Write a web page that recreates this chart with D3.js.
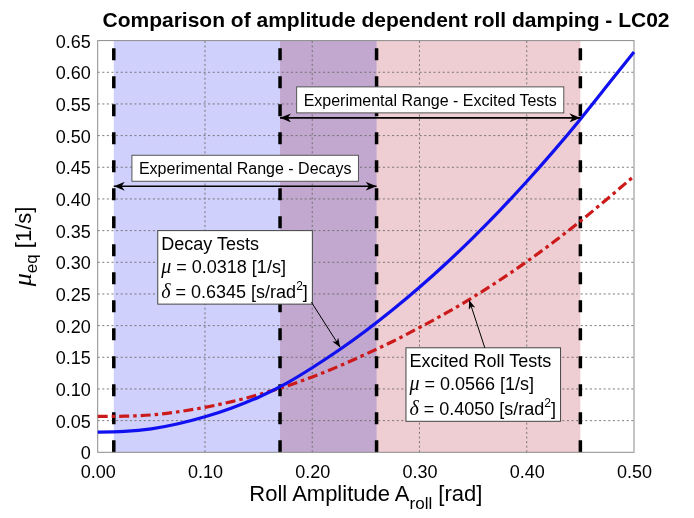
<!DOCTYPE html>
<html>
<head>
<meta charset="utf-8">
<script src="https://cdn.jsdelivr.net/npm/d3@7"></script>
<style>
  body { margin: 0; background: #fff; }
  text { font-family: "Liberation Sans", Arial, Helvetica, sans-serif; fill: #000; }
  .sym { font-family: "Liberation Serif", "Times New Roman", serif; font-style: italic; }
</style>
</head>
<body>
<svg id="chart" width="694" height="518"></svg>
<script>
// Roll amplitude samples [rad] and equivalent damping [1/s] for both fits
const amplitude = [0.000, 0.025, 0.050, 0.075, 0.100, 0.125, 0.150, 0.175, 0.200, 0.225,
                   0.250, 0.275, 0.300, 0.325, 0.350, 0.375, 0.400, 0.425, 0.450, 0.475, 0.500];
const decayMu   = [0.032, 0.033, 0.037, 0.045, 0.056, 0.070, 0.087, 0.108, 0.1335, 0.1615,
                   0.192, 0.225, 0.2605, 0.2985, 0.339, 0.382, 0.4275, 0.4755, 0.526, 0.579, 0.632];
const excitedMu = [0.0566, 0.057, 0.059, 0.064, 0.071, 0.080, 0.091, 0.104, 0.119, 0.136,
                   0.155, 0.175, 0.197, 0.220, 0.245, 0.272, 0.301, 0.332, 0.365, 0.400, 0.436];

// Fitted coefficients shown in the annotation boxes
const fitNames = ["Decay Tests", "Excited Roll Tests"];
const fitMu    = [0.0318, 0.0566];
const fitDelta = [0.6345, 0.4050];

// Experimental amplitude ranges
const decayRange   = [0.015, 0.26];
const excitedRange = [0.17, 0.45];
const rangeLabels  = ["Experimental Range - Decays", "Experimental Range - Excited Tests"];
const rangeArrowMu = [0.42, 0.528];

// Axis ticks
const xTicks = [0, 0.1, 0.2, 0.3, 0.4, 0.5];
const yTicks = [0, 0.05, 0.10, 0.15, 0.20, 0.25, 0.30, 0.35, 0.40, 0.45, 0.50, 0.55, 0.60, 0.65];

const svg = d3.select("#chart");
const plotL = 97.7, plotR = 634, plotT = 40.6, plotB = 452.3;

const x = d3.scaleLinear().domain([0, 0.5]).range([plotL, plotR]);
const y = d3.scaleLinear().domain([0, 0.65]).range([plotB, plotT]);

// Arrowhead markers
const defs = svg.append("defs");
function head(id, len, half) {
  defs.append("marker")
    .attr("id", id).attr("viewBox", `${-len} ${-half} ${len} ${2 * half}`)
    .attr("refX", 0).attr("refY", 0)
    .attr("markerWidth", len).attr("markerHeight", 2 * half)
    .attr("markerUnits", "userSpaceOnUse").attr("orient", "auto-start-reverse")
    .append("path")
    .attr("d", `M0,0 L${-len},${-half} L${-len * 0.7},0 L${-len},${half} Z`)
    .attr("fill", "#000");
}
head("rangeHead", 11, 4.5);
head("pointHead", 9, 3.5);

// Shaded experimental ranges
const shades = svg.append("g").style("isolation", "isolate");
shades.append("rect")
  .attr("x", x(decayRange[0])).attr("y", plotT)
  .attr("width", x(decayRange[1]) - x(decayRange[0])).attr("height", plotB - plotT)
  .attr("fill", "rgb(208,208,252)").style("mix-blend-mode", "multiply");
shades.append("rect")
  .attr("x", x(excitedRange[0])).attr("y", plotT)
  .attr("width", x(excitedRange[1]) - x(excitedRange[0])).attr("height", plotB - plotT)
  .attr("fill", "rgb(238,206,210)").style("mix-blend-mode", "multiply");

// Dotted grid
const grid = svg.append("g").attr("stroke", "#6a6a6a").attr("stroke-width", 0.9)
  .attr("stroke-dasharray", "2,2.6");
grid.selectAll(".gx").data(xTicks.slice(1, -1)).join("line")
  .attr("x1", d => x(d)).attr("x2", d => x(d)).attr("y1", plotB).attr("y2", plotT);
grid.selectAll(".gy").data(yTicks.slice(1, -1)).join("line")
  .attr("y1", d => y(d)).attr("y2", d => y(d)).attr("x1", plotL).attr("x2", plotR);

// Range boundaries (dashed verticals, drawn from the bottom up)
const bounds = [decayRange[0], excitedRange[0], decayRange[1], excitedRange[1]];
svg.append("g").selectAll("line").data(bounds).join("line")
  .attr("x1", d => x(d)).attr("x2", d => x(d))
  .attr("y1", plotB).attr("y2", plotT)
  .attr("stroke", "#000").attr("stroke-width", 3.5)
  .attr("stroke-dasharray", "12,16");

// Axes (labels only; frame drawn separately)
const xAxis = d3.axisBottom(x).tickValues(xTicks).tickFormat(d3.format(".2f")).tickSize(0).tickPadding(0);
const yAxis = d3.axisLeft(y).tickValues(yTicks).tickFormat(d => d === 0 ? "0" : d3.format(".2f")(d)).tickSize(0);
const gx = svg.append("g").attr("transform", `translate(0,${plotB})`).call(xAxis);
const gy = svg.append("g").attr("transform", `translate(${plotL},0)`).call(yAxis);
[gx, gy].forEach(g => {
  g.select(".domain").remove();
  g.selectAll("text").attr("font-size", 18).attr("fill", "#000")
    .style("font-family", '"Liberation Sans", Arial, sans-serif');
});
gx.selectAll("text").attr("dy", null).attr("y", 26);
gy.selectAll("text").attr("x", -7).attr("dy", "0.36em");

svg.append("rect").attr("x", plotL).attr("y", plotT)
  .attr("width", plotR - plotL).attr("height", plotB - plotT)
  .attr("fill", "none").attr("stroke", "#8c8c8c").attr("stroke-width", 1);

// Damping curves
const line = d3.line().x(d => x(d[0])).y(d => y(d[1])).curve(d3.curveNatural);
svg.append("path").datum(d3.zip(amplitude, excitedMu))
  .attr("d", line).attr("fill", "none")
  .attr("stroke", "#cc1a1a").attr("stroke-width", 3.2)
  .attr("stroke-dasharray", "10,4,3.5,4");
svg.append("path").datum(d3.zip(amplitude, decayMu))
  .attr("d", line).attr("fill", "none")
  .attr("stroke", "#1010f0").attr("stroke-width", 3.2);

// Range arrows with labelled boxes
const ranges = [decayRange, excitedRange];
ranges.forEach((r, i) => {
  const ay = y(rangeArrowMu[i]);
  svg.append("line")
    .attr("x1", x(r[0])).attr("x2", x(r[1])).attr("y1", ay).attr("y2", ay)
    .attr("stroke", "#000").attr("stroke-width", 1.6)
    .attr("marker-start", "url(#rangeHead)").attr("marker-end", "url(#rangeHead)");
  const g = svg.append("g");
  const cx = (x(r[0]) + x(r[1])) / 2;
  const t = g.append("text").attr("x", cx).attr("y", ay - 12)
    .attr("text-anchor", "middle").attr("font-size", 16).text(rangeLabels[i]);
  const bb = t.node().getBBox();
  g.insert("rect", "text")
    .attr("x", bb.x - 7).attr("y", ay - 31).attr("width", bb.width + 14).attr("height", 26)
    .attr("fill", "#fff").attr("stroke", "#555").attr("stroke-width", 1);
});

// Fit annotation boxes with pointer arrows
const fitBoxes = [
  { at: [0.056, 0.350], tip: [0.226, 0.166], from: "br" },
  { at: [0.2874, 0.165], tip: [0.3464, 0.240], from: "top" }
];
fitBoxes.forEach((b, i) => {
  const bx = x(b.at[0]), by = y(b.at[1]);
  const g = svg.append("g");
  const fs = 18;
  const t = g.append("text").attr("font-size", fs);
  t.append("tspan").attr("x", bx + 3.5).attr("y", by + 19).text(fitNames[i]);
  const l2 = t.append("tspan").attr("x", bx + 3.5).attr("y", by + 42.5);
  l2.append("tspan").attr("class", "sym").attr("font-size", 20).text("\u03bc");
  l2.append("tspan").text(` = ${fitMu[i].toFixed(4)} [1/s]`);
  const l3 = t.append("tspan").attr("x", bx + 3.5).attr("y", by + 67);
  l3.append("tspan").attr("class", "sym").attr("font-size", 20).text("\u03b4");
  l3.append("tspan").text(` = ${fitDelta[i].toFixed(4)} [s/rad`);
  l3.append("tspan").attr("font-size", 12).attr("dy", -8).text("2");
  l3.append("tspan").attr("dy", 8).text("]");
  const bb = t.node().getBBox();
  const w = bb.width + 7, h = 73.5;
  g.insert("rect", "text").attr("x", bx).attr("y", by).attr("width", w).attr("height", h)
    .attr("fill", "#fff").attr("stroke", "#444").attr("stroke-width", 1);
  const sx = b.from === "br" ? bx + w - 1 : bx + w * 0.51;
  const sy = b.from === "br" ? by + h - 2 : by;
  svg.append("line")
    .attr("x1", sx).attr("y1", sy).attr("x2", x(b.tip[0])).attr("y2", y(b.tip[1]))
    .attr("stroke", "#000").attr("stroke-width", 1)
    .attr("marker-end", "url(#pointHead)");
});

// Title and axis labels
svg.append("text").attr("x", 386).attr("y", 27).attr("text-anchor", "middle")
  .attr("font-size", 21).attr("font-weight", "bold")
  .text("Comparison of amplitude dependent roll damping - LC02");

const xl = svg.append("text").attr("x", (plotL + plotR) / 2).attr("y", 501)
  .attr("text-anchor", "middle").attr("font-size", 22);
xl.append("tspan").text("Roll Amplitude A");
xl.append("tspan").attr("font-size", 17).attr("dy", 8).text("roll");
xl.append("tspan").attr("dy", -8).text(" [rad]");

const yl = svg.append("text")
  .attr("transform", `translate(31,${(plotT + plotB) / 2}) rotate(-90)`)
  .attr("text-anchor", "middle").attr("font-size", 22);
yl.append("tspan").attr("class", "sym").attr("font-size", 26).text("\u03bc");
yl.append("tspan").attr("font-size", 17).attr("dy", 6).text("eq");
yl.append("tspan").attr("dy", -6).text(" [1/s]");
</script>
</body>
</html>
